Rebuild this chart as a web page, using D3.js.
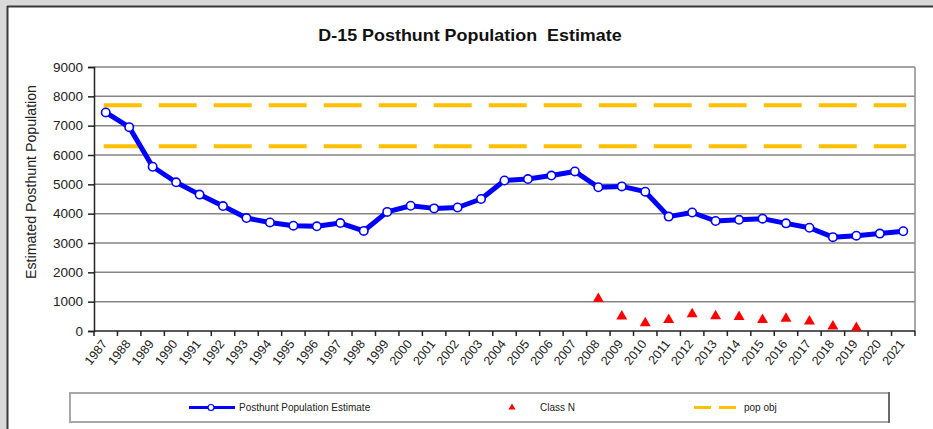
<!DOCTYPE html>
<html>
<head>
<meta charset="utf-8">
<script src="https://cdn.jsdelivr.net/npm/d3@7"></script>
<style>
  html, body { margin: 0; padding: 0; background: #d9d9d9; }
  svg { display: block; font-family: "Liberation Sans", Arial, sans-serif; }
</style>
</head>
<body>
<svg id="chart" width="933" height="429"></svg>
<script>
// Survey years shown on the category axis
const years = d3.range(1987, 2022).map(String);

// Posthunt population estimate, one value per year
const estimate = [
  7450, 6950, 5600, 5070, 4650, 4260, 3850, 3700, 3590, 3570,
  3680, 3410, 4060, 4270, 4180, 4210, 4500, 5130, 5180, 5300,
  5440, 4900, 4930, 4750, 3900, 4040, 3750, 3790, 3830, 3670,
  3520, 3200, 3250, 3320, 3400
];

// Class N counts (recorded from 2008 to 2019)
const classNYears = d3.range(2008, 2020).map(String);
const classN = [1100, 500, 270, 380, 580, 510, 480, 380, 420, 330, 160, 110];

// Population objective bounds
const popObj = [7700, 6300];

const yTicks = d3.range(0, 9001, 1000);

const title = "D-15 Posthunt Population  Estimate";
const yTitle = "Estimated Posthunt Population";
const legendLabels = ["Posthunt Population Estimate", "Class N", "pop obj"];

const svg = d3.select("#chart");

// card background with dark top/left edge
svg.append("rect").attr("x", 8).attr("y", 7).attr("width", 925).attr("height", 422).attr("fill", "#fff");
svg.append("line").attr("x1", 7).attr("x2", 933).attr("y1", 6.5).attr("y2", 6.5).attr("stroke", "#3a3a3a").attr("stroke-width", 2);
svg.append("line").attr("x1", 7.5).attr("x2", 7.5).attr("y1", 6).attr("y2", 429).attr("stroke", "#3a3a3a").attr("stroke-width", 2);

const plot = { left: 94, right: 915, top: 67, bottom: 331 };

const x = d3.scaleBand().domain(years).range([plot.left, plot.right]).padding(0);
const cx = d => x(d) + x.bandwidth() / 2;
const y = d3.scaleLinear().domain([0, 9000]).range([plot.bottom, plot.top]);

// title (slightly widened glyphs)
svg.append("text")
  .attr("transform", "translate(470,41) scale(1.12,1)")
  .attr("text-anchor", "middle")
  .attr("font-size", 16).attr("font-weight", "bold")
  .attr("fill", "#111")
  .style("white-space", "pre")
  .text(title);

// horizontal gridlines
svg.append("g").selectAll("line")
  .data(yTicks.filter(v => v > 0))
  .join("line")
  .attr("x1", plot.left).attr("x2", plot.right)
  .attr("y1", d => y(d)).attr("y2", d => y(d))
  .attr("stroke", "#858585").attr("stroke-width", 1.5);

// right plot border
svg.append("line")
  .attr("x1", plot.right).attr("x2", plot.right)
  .attr("y1", plot.top).attr("y2", plot.bottom)
  .attr("stroke", "#8c8c8c").attr("stroke-width", 1.5);

// y axis
const yAxis = d3.axisLeft(y).tickValues(yTicks).tickFormat(d3.format("d")).tickSize(6).tickPadding(5);
const gy = svg.append("g").attr("transform", `translate(${plot.left},0)`).call(yAxis);
gy.select(".domain").attr("stroke", "#222").attr("stroke-width", 1.5);
gy.selectAll(".tick line").attr("stroke", "#222").attr("stroke-width", 1.5);
gy.selectAll(".tick text").attr("font-size", 13.5).attr("fill", "#222")
  .attr("font-family", "Liberation Sans, Arial, sans-serif");

// x axis: ticks sit on category boundaries
const gx = svg.append("g").attr("transform", `translate(0,${plot.bottom})`);
gx.append("line").attr("x1", plot.left).attr("x2", plot.right).attr("y1", 0).attr("y2", 0)
  .attr("stroke", "#222").attr("stroke-width", 1.5);
gx.selectAll(".bt")
  .data(years.concat(["end"]))
  .join("line")
  .attr("class", "bt")
  .attr("x1", (d, i) => plot.left + i * x.bandwidth())
  .attr("x2", (d, i) => plot.left + i * x.bandwidth())
  .attr("y1", 0).attr("y2", 5)
  .attr("stroke", "#222").attr("stroke-width", 1.5);
gx.selectAll(".xl")
  .data(years)
  .join("text")
  .attr("class", "xl")
  .attr("text-anchor", "end")
  .attr("font-size", 12.5).attr("fill", "#222")
  .attr("transform", d => `translate(${cx(d) + 2},${13}) rotate(-52)`)
  .text(d => d);

// y axis title
svg.append("text")
  .attr("transform", `translate(36,${182}) rotate(-90)`)
  .attr("text-anchor", "middle")
  .attr("font-size", 14.2).attr("fill", "#222")
  .text(yTitle);

// population objective lines
svg.append("g").selectAll("line")
  .data(popObj)
  .join("line")
  .attr("x1", cx(years[0]) - 2).attr("x2", cx(years[years.length - 1]) + 3)
  .attr("y1", d => y(d)).attr("y2", d => y(d))
  .attr("stroke", "#ffc000").attr("stroke-width", 4)
  .attr("stroke-dasharray", "38,17");

// estimate line with open markers
const line = d3.line().x((d, i) => cx(years[i])).y(d => y(d));
svg.append("path")
  .datum(estimate)
  .attr("d", line)
  .attr("fill", "none")
  .attr("stroke", "#0000ff").attr("stroke-width", 5)
  .attr("stroke-linejoin", "round");
svg.append("g").selectAll("circle")
  .data(estimate)
  .join("circle")
  .attr("cx", (d, i) => cx(years[i]))
  .attr("cy", d => y(d))
  .attr("r", 4.2)
  .attr("fill", "#fff").attr("stroke", "#0000ff").attr("stroke-width", 1.6);

// Class N triangles
const tri = d3.symbol().type(d3.symbolTriangle).size(52);
svg.append("g").selectAll("path")
  .data(classN)
  .join("path")
  .attr("d", tri)
  .attr("transform", (d, i) => `translate(${cx(classNYears[i])},${y(d)})`)
  .attr("fill", "#ff0000");

// legend
const lg = svg.append("g");
lg.append("rect").attr("x", 70).attr("y", 393).attr("width", 819).attr("height", 29)
  .attr("fill", "#fff").attr("stroke", "#a8a8a8").attr("stroke-width", 2);
lg.append("line").attr("x1", 889).attr("x2", 889).attr("y1", 392).attr("y2", 423)
  .attr("stroke", "#555").attr("stroke-width", 1.5);
const ly = 407.5;
lg.append("line").attr("x1", 189).attr("x2", 235).attr("y1", ly).attr("y2", ly)
  .attr("stroke", "#0000ff").attr("stroke-width", 3);
lg.append("circle").attr("cx", 211).attr("cy", ly).attr("r", 3)
  .attr("fill", "#fff").attr("stroke", "#0000ff").attr("stroke-width", 1.2);
lg.append("path").attr("d", d3.symbol().type(d3.symbolTriangle).size(22))
  .attr("transform", `translate(512,${ly})`).attr("fill", "#ff0000");
lg.append("line").attr("x1", 694).attr("x2", 740).attr("y1", ly).attr("y2", ly)
  .attr("stroke", "#ffc000").attr("stroke-width", 3).attr("stroke-dasharray", "17,8");
const lx = [239, 540, 744];
lg.selectAll("text")
  .data(legendLabels)
  .join("text")
  .attr("x", (d, i) => lx[i]).attr("y", ly + 3.5)
  .attr("font-size", 10).attr("fill", "#222")
  .text(d => d);
</script>
</body>
</html>
